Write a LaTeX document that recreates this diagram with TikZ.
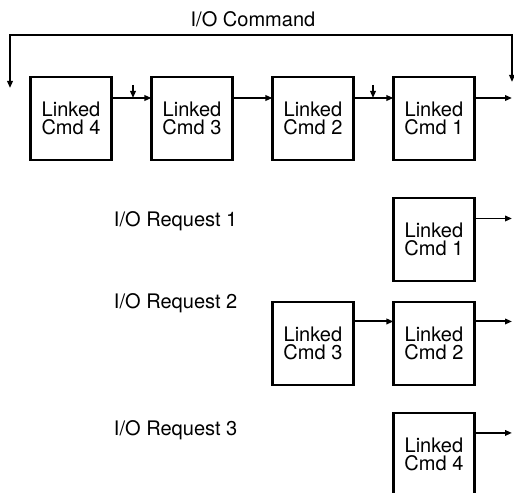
\documentclass[tikz,border=0pt]{standalone}
\usepackage{fontspec}
\setmainfont{TeX Gyre Heros}
\usetikzlibrary{positioning,arrows.meta}

\begin{document}
\begin{tikzpicture}[x=0.02cm,y=-0.02cm,>={Triangle[length=0.14cm,width=0.11cm]},
  line width=1.1pt,node distance=0.8cm,
  every node/.style={font=\fontsize{11.4}{10}\selectfont},
  cmd/.style={draw,line width=1.5pt,minimum width=1.62cm,minimum height=1.66cm,
    inner sep=0pt,outer sep=0pt,align=center},
  lbl/.style={anchor=base west,inner sep=0pt}]
\useasboundingbox (0,0) rectangle (514,493);
\node (C4) [cmd] at (71,118.5) {Linked\\Cmd 4};
\node (C3) [cmd,right = of C4] {Linked\\Cmd 3};
\node (C2) [cmd,right = of C3] {Linked\\Cmd 2};
\node (C1) [cmd,right = of C2] {Linked\\Cmd 1};
\node (R1) [cmd,below = 0.76cm of C1] {Linked\\Cmd 1};
\node (R2) [cmd,below = 0.42cm of R1] {Linked\\Cmd 2};
\node (R2a) [cmd,left = of R2] {Linked\\Cmd 3};
\node (R3) [cmd,below = 0.56cm of R2] {Linked\\Cmd 4};
\node (title) [anchor=base,inner sep=0pt] at (253,27) {I/O Command};
\node (q1) [lbl] at (113,227) {I/O Request 1};
\node (q2) [lbl] at (113,309) {I/O Request 2};
\node (q3) [lbl] at (113,435) {I/O Request 3};
\coordinate (retL) at (10,88);
\coordinate (topL) at (10,35);
\coordinate (topR) at (512,35);
\coordinate (retR) at (512,82);
\coordinate (in4) at (133,85);
\coordinate (on4) at (133,98);
\coordinate (in2) at (373,85);
\coordinate (on2) at (373,98);
\coordinate (row0) at ([yshift=0.41cm]C1.east);
\coordinate (row1) at ([yshift=0.42cm]R1.east);
\coordinate (row2) at ([yshift=0.44cm]R2.east);
\coordinate (row3) at ([yshift=0.43cm]R3.east);
\draw[<->] (retL) -- (topL) -- (topR) -- (retR);
\draw[->] ([yshift=0.41cm]C4.east) -- ([yshift=0.41cm]C3.west);
\draw[->] ([yshift=0.41cm]C3.east) -- ([yshift=0.41cm]C2.west);
\draw[->] ([yshift=0.41cm]C2.east) -- ([yshift=0.41cm]C1.west);
\draw[->] (row0) -- (row0 -| topR);
\draw[->] (in4) -- (on4);
\draw[->] (in2) -- (on2);
\draw[->] (row1) -- (row1 -| topR);
\draw[->] ([yshift=0.44cm]R2a.east) -- ([yshift=0.44cm]R2.west);
\draw[->] (row2) -- (row2 -| topR);
\draw[->] (row3) -- (row3 -| topR);
\end{tikzpicture}
\end{document}
